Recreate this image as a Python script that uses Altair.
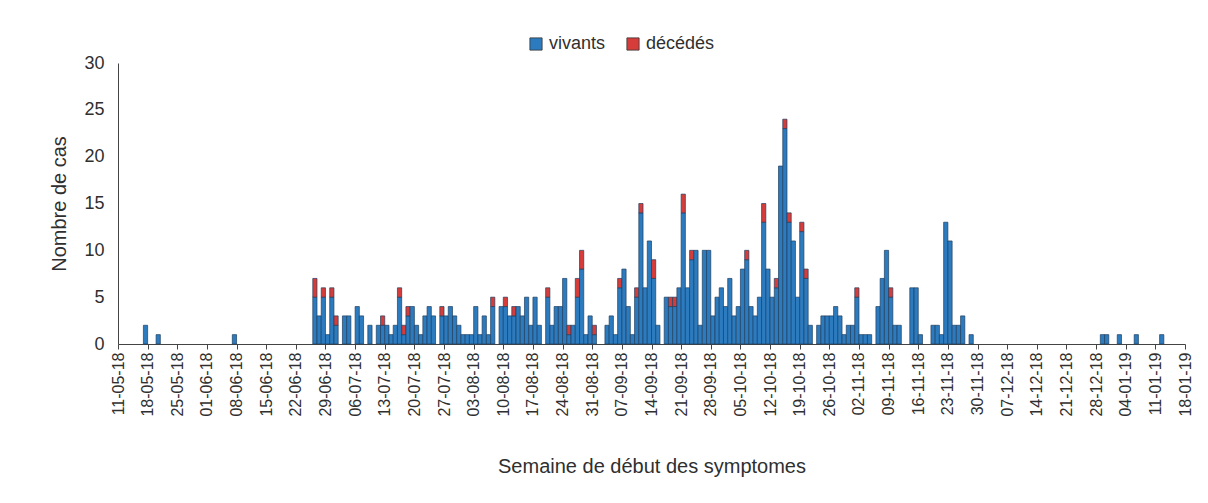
import altair as alt
import pandas as pd

# --- Data ---
origine = "2018-05-11"          # first week tick
debut_serie = "2018-06-26"      # first day of the continuous run below

totaux = [
    7, 3, 6, 1, 6, 3, 0, 3, 3, 0,
    4, 3, 0, 2, 0, 2, 3, 2, 1, 2,
    6, 2, 4, 4, 2, 1, 3, 4, 3, 0,
    4, 3, 4, 3, 2, 1, 1, 1, 4, 1,
    3, 1, 5, 0, 4, 5, 3, 4, 4, 3,
    5, 2, 5, 2, 0, 6, 2, 4, 4, 7,
    2, 2, 7, 10, 1, 3, 2, 0, 0, 2,
    3, 1, 7, 8, 4, 1, 6, 15, 6, 11,
    9, 2, 0, 5, 5, 5, 6, 16, 6, 10,
    10, 2, 10, 10, 3, 5, 6, 4, 7, 3,
    4, 8, 10, 4, 3, 5, 15, 8, 5, 7,
    19, 24, 14, 11, 5, 13, 8, 2, 0, 2,
    3, 3, 3, 4, 3, 1, 2, 2, 6, 1,
    1, 1, 0, 4, 7, 10, 6, 2, 2, 0,
    0, 6, 6, 1, 0, 0, 2, 2, 1, 13,
    11, 2, 2, 3, 0, 1,
]
deces = [
    2, 0, 1, 0, 1, 1, 0, 0, 0, 0,
    0, 0, 0, 0, 0, 0, 1, 0, 0, 0,
    1, 1, 1, 0, 0, 0, 0, 0, 0, 0,
    1, 0, 0, 0, 0, 0, 0, 0, 0, 0,
    0, 0, 1, 0, 0, 1, 0, 1, 0, 0,
    0, 0, 0, 0, 0, 1, 0, 0, 0, 0,
    1, 0, 2, 2, 0, 0, 1, 0, 0, 0,
    0, 0, 1, 0, 0, 0, 1, 1, 0, 0,
    2, 0, 0, 0, 1, 1, 0, 2, 0, 1,
    0, 0, 0, 0, 0, 0, 0, 0, 0, 0,
    0, 0, 1, 0, 0, 0, 2, 0, 0, 1,
    0, 1, 1, 0, 0, 1, 1, 0, 0, 0,
    0, 0, 0, 0, 0, 0, 0, 0, 1, 0,
    0, 0, 0, 0, 0, 0, 1, 0, 0, 0,
    0, 0, 0, 0, 0, 0, 0, 0, 0, 0,
    0, 0, 0, 0, 0, 0,
]

isoles_dates = ["2018-05-17", "2018-05-20", "2018-06-07",
                "2018-12-29", "2018-12-30", "2019-01-02", "2019-01-06", "2019-01-12"]
isoles_totaux = [2, 1, 1, 1, 1, 1, 1, 1]
isoles_deces = [0, 0, 0, 0, 0, 0, 0, 0]

semaines = [
    "11-05-18", "18-05-18", "25-05-18", "01-06-18", "08-06-18", "15-06-18",
    "22-06-18", "29-06-18", "06-07-18", "13-07-18", "20-07-18", "27-07-18",
    "03-08-18", "10-08-18", "17-08-18", "24-08-18", "31-08-18", "07-09-18",
    "14-09-18", "21-09-18", "28-09-18", "05-10-18", "12-10-18", "19-10-18",
    "26-10-18", "02-11-18", "09-11-18", "16-11-18", "23-11-18", "30-11-18",
    "07-12-18", "14-12-18", "21-12-18", "28-12-18", "04-01-19", "11-01-19",
    "18-01-19",
]

# --- Build a long table (stack bounds: vivants below, décédés on top) ---
o = pd.Timestamp(origine)
s = pd.Timestamp(debut_serie)
rows = []


def add(jour, total, morts):
    viv = total - morts
    if viv > 0:
        rows.append({"jour": jour, "jour_fin": jour + 1, "statut": "vivants",
                     "bas": 0, "haut": viv})
    if morts > 0:
        rows.append({"jour": jour, "jour_fin": jour + 1, "statut": "décédés",
                     "bas": viv, "haut": total})


base = (s - o).days
for i, (t, d) in enumerate(zip(totaux, deces)):
    if t > 0:
        add(base + i, t, d)
for ds, t, d in zip(isoles_dates, isoles_totaux, isoles_deces):
    add((pd.Timestamp(ds) - o).days, t, d)

df = pd.DataFrame(rows)

ndays = 7 * (len(semaines) - 1)
label_expr = "[" + ",".join("'%s'" % l for l in semaines) + "][round(datum.value/7)]"

FONT = "Liberation Sans"
TXT = "#2f2f2f"
AX = "#444444"

chart = alt.Chart(df).mark_bar(stroke="#1f3f60", strokeWidth=0.7).encode(
    x=alt.X(
        "jour:Q",
        scale=alt.Scale(domain=[0, ndays], nice=False, zero=False),
        axis=alt.Axis(
            values=list(range(0, ndays + 1, 7)),
            labelExpr=label_expr,
            labelAngle=270,
            labelFont=FONT,
            labelFontSize=16,
            labelColor=TXT,
            labelPadding=3,
            labelFlush=False,
            labelOverlap=False,
            tickSize=5,
            tickColor=AX,
            domainColor=AX,
            grid=False,
            title="Semaine de début des symptomes",
            titleFont=FONT,
            titleFontSize=20,
            titleFontWeight="normal",
            titleColor=TXT,
            titlePadding=40,
        ),
    ),
    x2="jour_fin:Q",
    y=alt.Y(
        "haut:Q",
        scale=alt.Scale(domain=[0, 30], nice=False),
        axis=alt.Axis(
            values=[0, 5, 10, 15, 20, 25, 30],
            grid=False,
            ticks=False,
            domainColor=AX,
            labelFont=FONT,
            labelFontSize=18,
            labelColor=TXT,
            labelPadding=14,
            title="Nombre de cas",
            titleFont=FONT,
            titleFontSize=20,
            titleFontWeight="normal",
            titleColor=TXT,
            titlePadding=14,
        ),
    ),
    y2="bas:Q",
    color=alt.Color(
        "statut:N",
        title=None,
        scale=alt.Scale(domain=["vivants", "décédés"], range=["#2C7BBF", "#D63C3A"]),
        legend=alt.Legend(
            orient="none",
            legendX=409,
            legendY=-28,
            direction="horizontal",
            symbolType="square",
            symbolSize=150,
            symbolStrokeColor="#333333",
            symbolStrokeWidth=0.8,
            labelFont=FONT,
            labelFontSize=18,
            labelColor=TXT,
            labelOffset=4,
            columnPadding=18,
            padding=0,
        ),
    ),
).properties(
    width=1067,
    height=281,
    background="white",
    autosize=alt.AutoSizeParams(type="none"),
    padding={"left": 110, "top": 55, "right": 15, "bottom": 145},
).configure_view(strokeWidth=0)

chart.save("out.html", embed_options={"renderer": "svg", "actions": False})
